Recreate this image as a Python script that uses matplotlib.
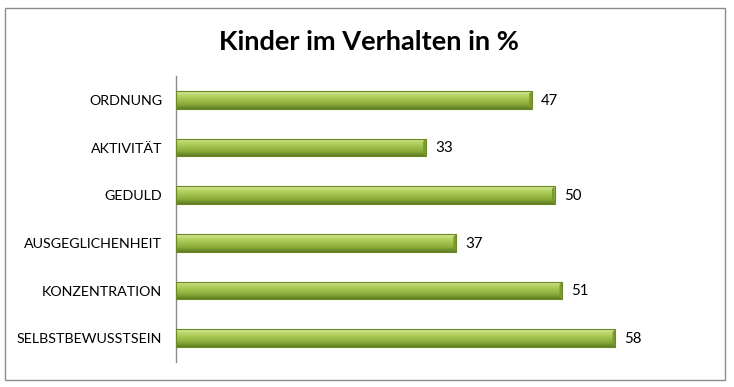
import matplotlib
matplotlib.use("Agg")
import matplotlib.pyplot as plt
import numpy as np
from matplotlib.patches import Rectangle, Polygon
from matplotlib.colors import LinearSegmentedColormap

categories = ["ORDNUNG", "AKTIVITÄT", "GEDULD", "AUSGEGLICHENHEIT", "KONZENTRATION", "SELBSTBEWUSSTSEIN"]
values = [47, 33, 50, 37, 51, 58]
title = "Kinder im Verhalten in %"

W, H = 734, 387
fig = plt.figure(figsize=(W/100, H/100), dpi=100)
fig.patch.set_facecolor("white")

# outer frame
fig.add_artist(Rectangle((5/W, 1-380/H), 720/W, 372/H, transform=fig.transFigure,
                         fill=False, edgecolor="#8c8c8c", linewidth=1.0))

ax = fig.add_axes([176/W, 1-362/H, (706-176)/W, (362-76)/H])
ax.set_xlim(0, 70)
n = len(categories)
ax.set_ylim(n - 0.5, -0.5)
ax.set_facecolor("none")
for s in ["top", "right", "bottom"]:
    ax.spines[s].set_visible(False)
ax.spines["left"].set_color("#8c8c8c")
ax.spines["left"].set_linewidth(1.0)
ax.set_xticks([])
ax.set_yticks(range(n))
ax.set_yticklabels(categories, fontsize=10.3, family="Lato", color="black")
ax.tick_params(axis="y", length=0, pad=10)

cmap = LinearSegmentedColormap.from_list("g", ["#d6e99c", "#b8d465", "#a0c04a", "#89aa3a", "#5f7d22"])
grad = np.linspace(0, 1, 64).reshape(-1, 1)
bh = 0.37
ys = np.arange(n)
bars = ax.barh(ys, values, height=bh, color="#9cbd45", edgecolor="none", zorder=2)
for b, v in zip(bars, values):
    y0 = b.get_y()
    im = ax.imshow(grad, cmap=cmap, aspect="auto", extent=(0, v, y0 + bh, y0),
                   zorder=3, interpolation="bicubic")
    im.set_clip_path(b)
    # bevel at the right end
    cap = 0.35
    ax.add_patch(Polygon([(v - cap, y0 + bh*0.15), (v, y0), (v, y0 + bh), (v - cap, y0 + bh*0.85)],
                         closed=True, facecolor="#7a9a2e", edgecolor="none", zorder=4))
    ax.add_patch(Rectangle((0, y0), v, bh, fill=False, edgecolor="#6b8a25", linewidth=0.8, zorder=5))
    ax.text(v + 1.2, y0 + bh/2 + 0.02, str(v), va="center", ha="left", fontsize=10.8,
            family="Lato", color="black")

fig.text(369/W, 1-42/H, title, ha="center", va="center", fontsize=19.5,
         family="Lato", fontweight="bold", color="black")

fig.savefig("out.png", dpi=100)
